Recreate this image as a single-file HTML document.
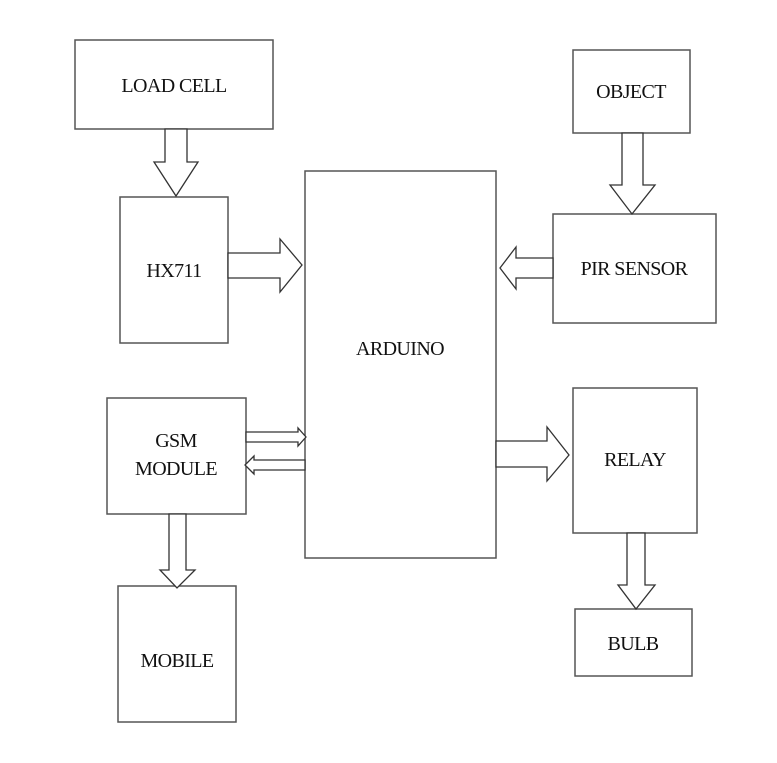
<!DOCTYPE html>
<html><head><style>
html,body{margin:0;padding:0;background:#fff;width:777px;height:763px;overflow:hidden}
</style></head><body>
<svg width="777" height="763" xmlns="http://www.w3.org/2000/svg" font-family="Liberation Serif, serif" font-size="20" letter-spacing="-0.6" fill="#111">
<g fill="#fff" stroke="#555" stroke-width="1.5">
<rect x="75" y="40" width="198" height="89"/>
<rect x="120" y="197" width="108" height="146"/>
<rect x="305" y="171" width="191" height="387"/>
<rect x="573" y="50" width="117" height="83"/>
<rect x="553" y="214" width="163" height="109"/>
<rect x="107" y="398" width="139" height="116"/>
<rect x="118" y="586" width="118" height="136"/>
<rect x="573" y="388" width="124" height="145"/>
<rect x="575" y="609" width="117" height="67"/>
</g>
<g fill="#fff" stroke="#333" stroke-width="1.3">
<polygon points="165,129 187,129 187,162 198,162 176,196 154,162 165,162"/>
<polygon points="228,253 280,253 280,239 302,265 280,292 280,278 228,278"/>
<polygon points="622,133 643,133 643,185 655,185 632,214 610,185 622,185"/>
<polygon points="553,258 553,278 516,278 516,289 500,268 516,247 516,258"/>
<polygon points="246,432 298,432 298,428 306,437 298,446 298,442 246,442"/>
<polygon points="305,460 305,470 254,470 254,474 245,465 254,456 254,460"/>
<polygon points="169,514 186,514 186,570 195,570 177,588 160,570 169,570"/>
<polygon points="496,441 547,441 547,427 569,455 547,481 547,467 496,467"/>
<polygon points="627,533 645,533 645,585 655,585 636,609 618,585 627,585"/>
</g>
<g text-anchor="middle" stroke="none">
<text x="174" y="92">LOAD CELL</text>
<text x="174" y="277">HX711</text>
<text x="400" y="355">ARDUINO</text>
<text x="631" y="98">OBJECT</text>
<text x="634" y="275">PIR SENSOR</text>
<text x="176" y="447">GSM</text>
<text x="176" y="475">MODULE</text>
<text x="177" y="667">MOBILE</text>
<text x="635" y="466">RELAY</text>
<text x="633" y="650">BULB</text>
</g>
</svg>
</body></html>
